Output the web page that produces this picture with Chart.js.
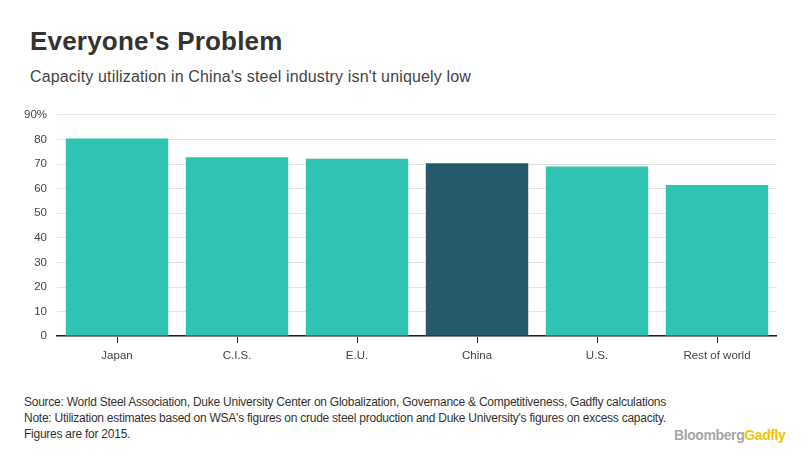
<!DOCTYPE html>
<html>
<head>
<meta charset="utf-8">
<script src="https://cdn.jsdelivr.net/npm/chart.js@4"></script>
<style>
  body { margin: 0; background: #fff; font-family: "Liberation Sans", Arial, sans-serif; }
  #wrap { position: relative; width: 812px; height: 473px; overflow: hidden; }
  #title { position: absolute; left: 30px; top: 26px; font-size: 26px; font-weight: bold; color: #333; letter-spacing: 0.2px; }
  #sub { position: absolute; left: 30px; top: 68px; font-size: 16px; color: #444; letter-spacing: 0.15px; }
  #box { position: absolute; left: 0; top: 98px; width: 777px; height: 271px; }
  .note { position: absolute; left: 24px; font-size: 12px; color: #333; letter-spacing: -0.25px; }
  #logo { position: absolute; left: 674px; top: 427px; font-size: 14px; font-weight: bold; letter-spacing: -0.4px; }
</style>
</head>
<body>
<div id="wrap">
  <div id="title">Everyone's Problem</div>
  <div id="sub">Capacity utilization in China's steel industry isn't uniquely low</div>
  <div id="box"><canvas id="chart"></canvas></div>
  <div class="note" style="top:395px">Source: World Steel Association, Duke University Center on Globalization, Governance &amp; Competitiveness, Gadfly calculations</div>
  <div class="note" style="top:411px">Note: Utilization estimates based on WSA's figures on crude steel production and Duke University's figures on excess capacity.</div>
  <div class="note" style="top:427px">Figures are for 2015.</div>
  <div id="logo"><span style="color:#a6a6a6">Bloomberg</span><span style="color:#f5c400">Gadfly</span></div>
</div>
<script>
var regions = ["Japan", "C.I.S.", "E.U.", "China", "U.S.", "Rest of world"];
var utilization = [80.8, 73.2, 72.6, 70.7, 69.4, 61.9];
var barColors = ["#2ec4b1", "#2ec4b1", "#2ec4b1", "#245a6b", "#2ec4b1", "#2ec4b1"];
var yTicks = [0, 10, 20, 30, 40, 50, 60, 70, 80, 90];

var ctx = document.getElementById("chart");
var chart = new Chart(ctx, {
  type: "bar",
  data: {
    labels: regions,
    datasets: [{
      data: utilization,
      backgroundColor: barColors,
      borderColor: "rgba(255,255,255,0.35)",
      borderWidth: 1,
      barPercentage: 0.87,
      categoryPercentage: 1
    }]
  },
  options: {
    responsive: true,
    maintainAspectRatio: false,
    animation: false,
    layout: { padding: { top: 7, left: 14 } },
    plugins: { legend: { display: false }, tooltip: { enabled: false } },
    scales: {
      x: {
        grid: { drawOnChartArea: false, drawTicks: true, tickLength: 7, offset: false, color: "#222" },
        border: { color: "#222", width: 1.5 },
        ticks: { color: "#444", font: { size: 11.5, family: "Liberation Sans" }, padding: 6 }
      },
      y: {
        min: 0,
        max: 90,
        afterBuildTicks: function (axis) { axis.ticks = yTicks.map(function (v) { return { value: v }; }); },
        grid: { color: "#e3e3e3", drawTicks: false },
        border: { display: false },
        ticks: {
          color: "#444",
          font: { size: 11.5, family: "Liberation Sans" },
          padding: 10,
          callback: function (v) { return v === 90 ? "90%" : v; }
        }
      }
    }
  }
});
</script>
</body>
</html>
